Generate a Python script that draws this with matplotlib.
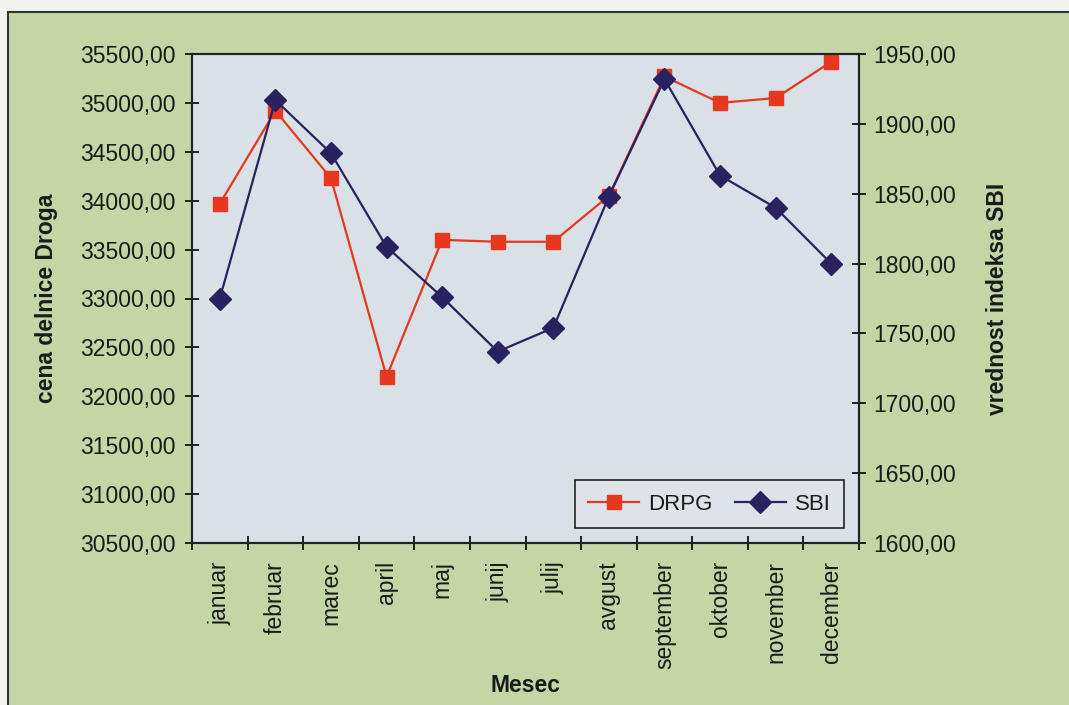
import numpy as np
import matplotlib
matplotlib.use("Agg")
import matplotlib.pyplot as plt
from matplotlib.patches import Rectangle
from matplotlib.ticker import FuncFormatter

months = ['januar', 'februar', 'marec', 'april', 'maj', 'junij', 'julij',
          'avgust', 'september', 'oktober', 'november', 'december']
drpg = [33970, 34920, 34230, 32200, 33600, 33580, 33580,
        34050, 35270, 35000, 35050, 35420]
sbi = [1775, 1917, 1879, 1812, 1776, 1737, 1754,
       1848, 1932, 1863, 1840, 1800]

plt.rcParams['font.family'] = ['Liberation Sans', 'DejaVu Sans']

green = '#c5d6a6'
face = '#d9e0e6'
red = '#e8371f'
navy = '#2a2160'
ink = '#1a1a1a'


def comma_fmt(v, pos):
    return f"{v:.2f}".replace('.', ',')


fig = plt.figure(figsize=(10.69, 7.05), dpi=100)
fig.patch.set_facecolor('#f2f2ee')
# green panel with dark border
fig.patches.append(Rectangle((8 / 1069, -0.01), 1.02, 1 - 12 / 705 + 0.01,
                             transform=fig.transFigure, facecolor=green,
                             edgecolor='#333333', linewidth=1.5, zorder=-10))

ax = fig.add_axes([192 / 1069, 1 - 543 / 705, 667 / 1069, 489 / 705])
ax.set_facecolor(face)
x = np.arange(len(months))
l1, = ax.plot(x, drpg, color=red, marker='s', markersize=10, linewidth=1.6,
              label='DRPG')
ax.set_ylim(30500, 35500)
ax.set_yticks(np.arange(30500, 35501, 500))
ax.yaxis.set_major_formatter(FuncFormatter(comma_fmt))
ax.set_xlim(-0.5, len(months) - 0.5)
ax.set_xticks(x)
ax.set_xticklabels(months, rotation=90)
ax.set_xticks(np.arange(len(months) + 1) - 0.5, minor=True)
ax.tick_params(axis='x', which='major', length=0, pad=13, labelsize=16.5,
               labelcolor=ink)
ax.tick_params(axis='x', which='minor', direction='inout', length=10, width=1.2)
ax.tick_params(axis='y', direction='inout', length=10, width=1.2, labelsize=16.5,
               pad=7, labelcolor=ink)
ax.set_ylabel('cena delnice Droga', fontsize=16.5, fontweight='bold',
              labelpad=16, color=ink)
ax.set_xlabel('Mesec', fontsize=16.5, fontweight='bold', labelpad=3, color=ink)
for s in ax.spines.values():
    s.set_linewidth(1.5)
    s.set_color('#222222')

ax2 = ax.twinx()
l2, = ax2.plot(x, sbi, color=navy, marker='D', markersize=11.5, linewidth=1.6,
               label='SBI')
ax2.set_ylim(1600, 1950)
ax2.set_yticks(np.arange(1600, 1951, 50))
ax2.yaxis.set_major_formatter(FuncFormatter(comma_fmt))
ax2.tick_params(axis='y', direction='inout', length=10, width=1.2, labelsize=16.5,
                pad=5, labelcolor=ink)
ax2.set_ylabel('vrednost indeksa SBI', fontsize=16.5, fontweight='bold',
               labelpad=22, color=ink)
for s in ax2.spines.values():
    s.set_linewidth(1.5)
    s.set_color('#222222')

leg = ax2.legend([l1, l2], ['DRPG', 'SBI'], ncol=2, loc='lower right',
                 bbox_to_anchor=(0.9775, 0.0307), borderaxespad=0,
                 fontsize=16, fancybox=False, framealpha=1,
                 facecolor='#dde3e8', edgecolor='#222222',
                 handlelength=2.3, handletextpad=0.4, columnspacing=1.0,
                 borderpad=0.6)
leg.get_frame().set_linewidth(1.2)
for t in leg.get_texts():
    t.set_color(ink)

fig.savefig('out.png', dpi=100, facecolor=fig.get_facecolor())
